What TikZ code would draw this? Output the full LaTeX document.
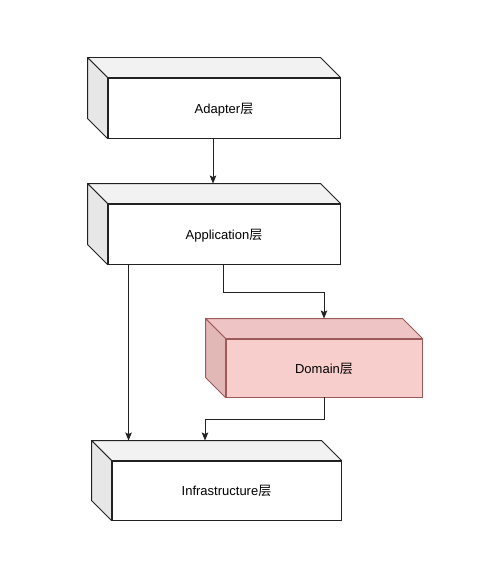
\documentclass[tikz,border=0pt]{standalone}
\usepackage{fontspec}
\setmainfont{Liberation Sans}
\newfontfamily\cjk{Noto Sans CJK SC}
\usetikzlibrary{calc,arrows.meta}
\definecolor{edgegray}{HTML}{222222}
\definecolor{topgray}{HTML}{F2F2F2}
\definecolor{leftgray}{HTML}{E7E7E7}
\definecolor{domfront}{HTML}{F8CECC}
\definecolor{domtop}{HTML}{EEC5C4}
\definecolor{domleft}{HTML}{E2B8B7}
\definecolor{domedge}{HTML}{9E5A5A}
\tikzset{
  cubefront/.style={draw=edgegray, fill=white, line width=0.9pt, rectangle, inner sep=0pt,
    font=\fontsize{13}{15}\selectfont, text depth=0pt},
  domfrontstyle/.style={cubefront, draw=domedge, fill=domfront},
  conn/.style={draw=edgegray, line width=0.9pt, -{Stealth[length=8pt,width=6.5pt,inset=1.5pt]}},
}
\newcommand\drawcubefaces[4]{%
  \draw[draw=#4, fill=#2, line width=0.9pt, line join=round]
    (#1.north west) -- ($(#1.north west)+(-20,-20)$) -- ($(#1.north east)+(-20,-20)$) -- (#1.north east) -- cycle;
  \draw[draw=#4, fill=#3, line width=0.9pt, line join=round]
    (#1.north west) -- ($(#1.north west)+(-20,-20)$) -- ($(#1.south west)+(-20,-20)$) -- (#1.south west) -- cycle;
}
\begin{document}
\begin{tikzpicture}[x=1pt,y=-1pt]
\useasboundingbox[fill=white] (0,0) rectangle (499,575);
% front faces
\node[cubefront, minimum width=232pt, minimum height=60pt] (adapter) at (224,108) {Adapter{\cjk 层}};
\node[cubefront, minimum width=232pt, minimum height=60pt] (application) at (224,234) {Application{\cjk 层}};
\node[domfrontstyle, minimum width=196pt, minimum height=58pt] (domain) at (324,368) {Domain{\cjk 层}};
\node[cubefront, minimum width=229pt, minimum height=59pt] (infra) at (226.5,490.5) {Infrastructure{\cjk 层}};
% side faces
\drawcubefaces{adapter}{topgray}{leftgray}{edgegray}
\drawcubefaces{application}{topgray}{leftgray}{edgegray}
\drawcubefaces{domain}{domtop}{domleft}{domedge}
\drawcubefaces{infra}{topgray}{leftgray}{edgegray}
% back top edges
\coordinate (applicationtop) at ($(application.north)+(0,-20)$);
\coordinate (domaintop) at ($(domain.north)+(0,-20)$);
\coordinate (infratop) at ($(infra.north)+(0,-20)$);
% connectors
\draw[conn] ([xshift=-11pt]adapter.south) -- ([xshift=-11pt]applicationtop);
\draw[conn] ([xshift=-1pt]application.south) -- ++(0,28) -| (domaintop);
\draw[conn] ([xshift=21pt]application.south west) -- ([xshift=21pt]application.south west |- infratop);
\draw[conn] (domain.south) -- ++(0,22) -| ([xshift=-21.5pt]infratop);
\end{tikzpicture}
\end{document}
